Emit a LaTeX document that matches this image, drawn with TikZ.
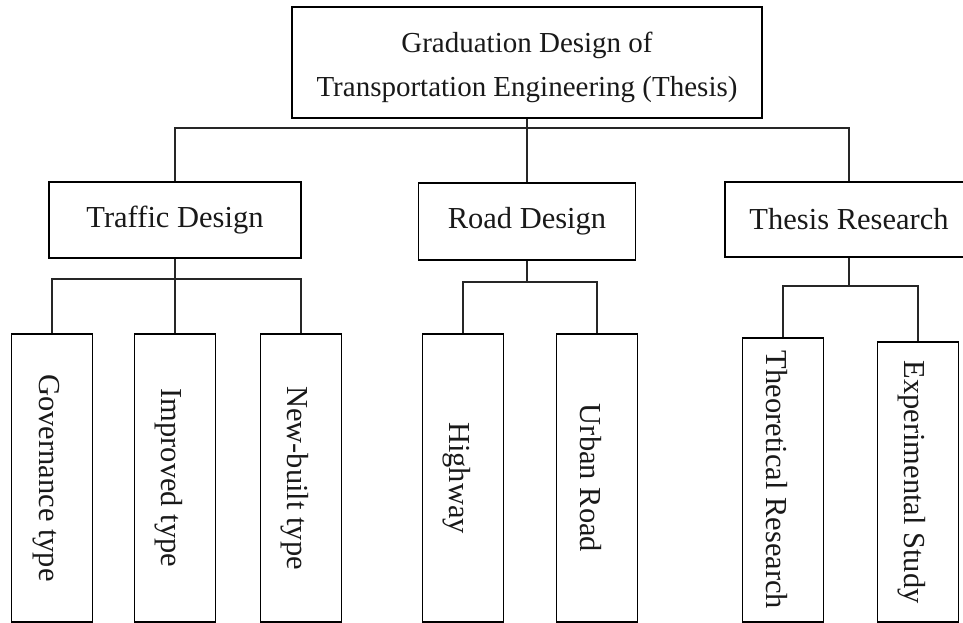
\documentclass[tikz,border=0pt]{standalone}
\usepackage{fontspec}
\setmainfont{Liberation Serif}
\begin{document}
\begin{tikzpicture}[x=1pt,y=-1pt,
  box/.style={draw=black,line width=1.6pt,rectangle,inner sep=0pt,
    font=\fontsize{30.5}{44}\selectfont,text=black!90},
  leaf/.style={box,minimum width=81pt,minimum height=288pt},
  conn/.style={draw=black!85,line width=1.1pt}]
\useasboundingbox (0,0) rectangle (963,623);
% top
\node[box,minimum width=470pt,minimum height=111pt,align=center,
  font=\fontsize{29}{44}\selectfont,text height=75.5pt,text depth=6.5pt] (top) at (527,62.5)
  {Graduation Design of\\Transportation Engineering (Thesis)};
% second level
\node[box,minimum width=252pt,minimum height=76pt] (trf) at (175,220) {Traffic Design};
\node[box,minimum width=217pt,minimum height=77pt] (road) at (527,221.5) {Road Design};
\node[box,minimum width=248pt,minimum height=75pt] (ths) at (849,219.5) {Thesis Research};
% leaves
\node[leaf] (gov) at (52,478) {\rotatebox{-90}{Governance type}\hspace*{12pt}};
\node[leaf] (imp) at (175,478) {\rotatebox{-90}{Improved type}\hspace*{12pt}};
\node[leaf] (new) at (301,478) {\rotatebox{-90}{New-built type}\hspace*{12pt}};
\node[leaf] (hwy) at (463,478) {\rotatebox{-90}{Highway}\hspace*{12pt}};
\node[leaf] (urb) at (597,478) {\rotatebox{-90}{Urban Road}\hspace*{12pt}};
\node[leaf,minimum height=284pt] (the) at (783,480) {\rotatebox{-90}{Theoretical Research}\hspace*{12pt}};
\node[leaf,minimum height=280pt] (exp) at (918,482) {\rotatebox{-90}{Experimental Study}\hspace*{12pt}};
% bus coordinates
\coordinate (b1) at (527,128);
\coordinate (b2) at (175,279);
\coordinate (b3) at (527,282);
\coordinate (b4) at (849,286);
% connectors
\draw[conn] (top.south) -- (road.north);
\draw[conn] (trf.north) |- (b1) -| (ths.north);
\draw[conn] (trf.south) -- (imp.north);
\draw[conn] (gov.north) |- (b2) -| (new.north);
\draw[conn] (road.south) -- (b3);
\draw[conn] (hwy.north) |- (b3) -| (urb.north);
\draw[conn] (ths.south) -- (b4);
\draw[conn] (the.north) |- (b4) -| (exp.north);
\end{tikzpicture}
\end{document}
